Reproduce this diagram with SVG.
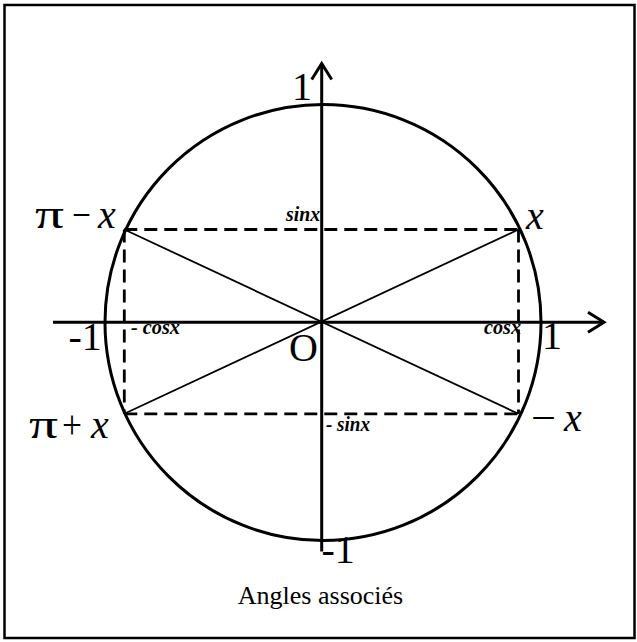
<svg xmlns="http://www.w3.org/2000/svg" width="637" height="642" viewBox="0 0 637 642">
<style>
.frame{fill:none;stroke:#000;stroke-width:2.5}
.circ{fill:none;stroke:#000;stroke-width:3}
.axis{fill:none;stroke:#000;stroke-width:3}
.dash{fill:none;stroke:#000;stroke-width:2.8;stroke-dasharray:13 7}
.diag{fill:none;stroke:#000;stroke-width:1.8}
.big{font-family:"Liberation Serif","Times New Roman",serif;font-size:40px;fill:#000}
.it{font-style:italic}
.small{font-family:"Liberation Serif","Times New Roman",serif;font-size:22px;font-style:italic;font-weight:bold;fill:#000}
.cap{font-family:"Liberation Serif","Times New Roman",serif;font-size:26px;fill:#000}
</style>
<defs>
<marker id="chev" markerUnits="userSpaceOnUse" markerWidth="24" markerHeight="24" viewBox="-20 -12 24 24" refX="0" refY="0" orient="auto">
<path d="M-16,-10 L0,0 L-16,10" fill="none" stroke="#000" stroke-width="3"/>
</marker>
</defs>
<rect class="frame" x="4.5" y="5" width="630" height="633"/>
<g id="unit-circle">
<circle class="circ" cx="323" cy="322.5" r="218"/>
</g>
<g id="connectors">
<line id="axis-x" class="axis" x1="53" y1="322.3" x2="604" y2="322.3" marker-end="url(#chev)"/>
<line id="axis-y" class="axis" x1="321.7" y1="551.5" x2="321.7" y2="63.5" marker-end="url(#chev)"/>
<line class="dash" x1="124.3" y1="229.5" x2="518.5" y2="229.5"/>
<line class="dash" x1="124.3" y1="413.8" x2="518.5" y2="413.8"/>
<line class="dash" x1="124.3" y1="229.5" x2="124.3" y2="413.8"/>
<line class="dash" x1="518.5" y1="229.5" x2="518.5" y2="413.8"/>
<line class="diag" x1="124.3" y1="229.5" x2="518.5" y2="413.8"/>
<line class="diag" x1="124.3" y1="413.8" x2="518.5" y2="229.5"/>
</g>
<g id="axis-labels">
<text class="big" x="292" y="100">1</text>
<text class="big" x="321.5" y="563">-1</text>
<text class="big" x="68.5" y="350">-1</text>
<text class="big" x="542" y="349">1</text>
<text class="big" x="289" y="361">O</text>
</g>
<g id="point-x">
<text class="big it" x="526" y="229">x</text>
</g>
<g id="point-pi-minus-x">
<text class="big" x="35" y="228" textLength="29" lengthAdjust="spacingAndGlyphs">π</text>
<text class="big" x="72" y="228" textLength="19" lengthAdjust="spacingAndGlyphs">−</text>
<text class="big it" x="98" y="228">x</text>
</g>
<g id="point-pi-plus-x">
<text class="big" x="29" y="438" textLength="29" lengthAdjust="spacingAndGlyphs">π</text>
<text class="big" x="62" y="438" textLength="20" lengthAdjust="spacingAndGlyphs">+</text>
<text class="big it" x="91" y="438">x</text>
</g>
<g id="point-minus-x">
<text class="big" x="531" y="431" textLength="25" lengthAdjust="spacingAndGlyphs">−</text>
<text class="big it" x="564" y="431">x</text>
</g>
<g id="projection-labels">
<text class="small" x="286" y="221" textLength="34" lengthAdjust="spacingAndGlyphs">sinx</text>
<text class="small" x="131" y="334" textLength="49" lengthAdjust="spacingAndGlyphs">- cosx</text>
<text class="small" x="484" y="334" textLength="37" lengthAdjust="spacingAndGlyphs">cosx</text>
<text class="small" x="326" y="431" textLength="44" lengthAdjust="spacingAndGlyphs">- sinx</text>
</g>
<text class="cap" x="320.5" y="604" text-anchor="middle">Angles associés</text>
</svg>
